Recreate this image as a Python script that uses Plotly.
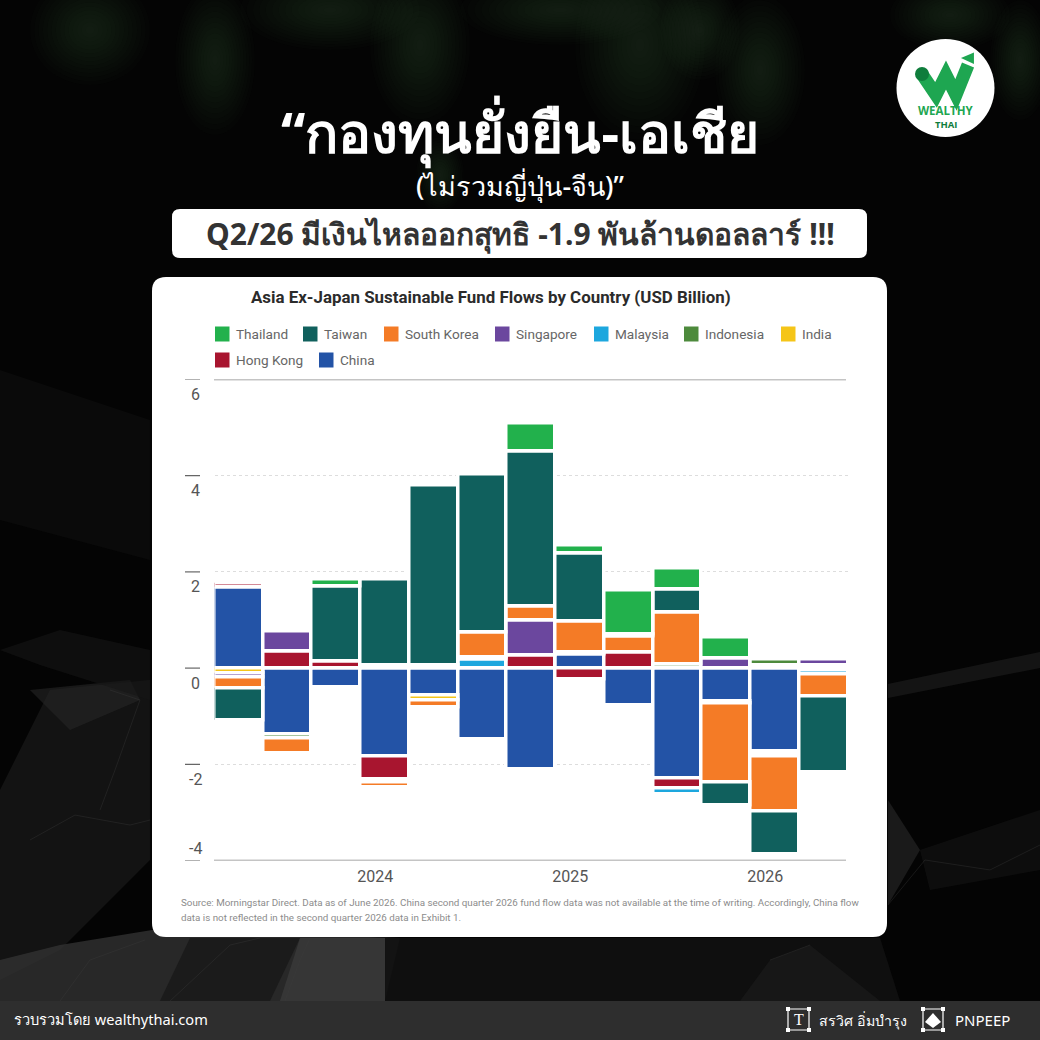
import plotly.graph_objects as go

QUARTERS = ["Q2 2023", "Q3 2023", "Q4 2023", "Q1 2024", "Q2 2024", "Q3 2024", "Q4 2024",
            "Q1 2025", "Q2 2025", "Q3 2025", "Q4 2025", "Q1 2026", "Q2 2026"]

# stacked from the zero line outwards, China is nearest to zero
china = [1.67, -1.39, -0.41, -1.83, -0.57, -1.49, -2.10, 0.29, -0.78, -2.30, -0.69, -1.74, None]
hong_kong = [0.09, 0.34, 0.13, -0.49, None, None, 0.27, -0.23, 0.32, -0.21, None, None, None]
india = [-0.12, None, None, -0.06, -0.11, None, None, None, None, None, None, 0.05, 0.05]
indonesia = [None, -0.07, None, 0.05, None, None, None, None, None, 0.07, None, 0.13, -0.04]
malaysia = [None, None, None, None, None, 0.17, None, None, None, -0.11, -0.04, -0.05, -0.10]
singapore = [-0.07, 0.42, None, None, 0.05, 0.05, 0.73, 0.04, None, None, 0.19, -0.05, 0.13]
south_korea = [-0.23, -0.31, None, -0.10, -0.13, 0.53, 0.29, 0.63, 0.33, 1.09, -1.64, -1.15, -0.45]
taiwan = [-0.67, None, 1.56, 1.80, 3.74, 3.27, 3.21, 1.43, 0.04, 0.48, -0.48, -0.88, -1.58]
thailand = [None, None, 0.16, None, None, None, 0.58, 0.15, 0.92, 0.43, 0.45, None, None]

STACK = [("China", china, "#2353a6"), ("Hong Kong", hong_kong, "#a8152f"), ("India", india, "#f5c518"),
         ("Indonesia", indonesia, "#4d8a3c"), ("Malaysia", malaysia, "#1da7de"), ("Singapore", singapore, "#6b479e"),
         ("South Korea", south_korea, "#f47b26"), ("Taiwan", taiwan, "#10605d"), ("Thailand", thailand, "#22b14c")]

# legend rows: name, swatch left edge
LEGEND_ROW1 = [("Thailand", 215), ("Taiwan", 303), ("South Korea", 384), ("Singapore", 495),
               ("Malaysia", 594), ("Indonesia", 684), ("India", 781)]
LEGEND_ROW2 = [("Hong Kong", 215), ("China", 319)]

Y_TICKS = [6, 4, 2, 0, -2, -4]
YEAR_LABELS = ["2024", "2025", "2026"]
YEAR_POS = [2.8, 6.8, 10.8]

TITLE1 = "“กองทุนยั่งยืน-เอเชีย"
TITLE2 = "(ไม่รวมญี่ปุ่น-จีน)”"
HEADLINE = "Q2/26 มีเงินไหลออกสุทธิ -1.9 พันล้านดอลลาร์ !!!"
CHART_TITLE = "Asia Ex-Japan Sustainable Fund Flows by Country (USD Billion)"
SOURCE1 = "Source: Morningstar Direct. Data as of June 2026. China second quarter 2026 fund flow data was not available at the time of writing. Accordingly, China flow"
SOURCE2 = "data is not reflected in the second quarter 2026 data in Exhibit 1."

THAI_FONT = "Noto Sans, sans-serif"
NARROW = "Roboto, sans-serif"


def px(x):
    return x / 1040


def py(y):
    return 1 - y / 1040


def poly(points, color, opacity=1.0):
    path = "M " + " L ".join(f"{px(x):.4f},{py(y):.4f}" for x, y in points) + " Z"
    return dict(type="path", path=path, xref="paper", yref="paper", fillcolor=color,
                line_width=0, opacity=opacity, layer="below")


def crease(points, color, width=1.0, opacity=0.35):
    path = "M " + " L ".join(f"{px(x):.4f},{py(y):.4f}" for x, y in points)
    return dict(type="path", path=path, xref="paper", yref="paper", line=dict(color=color, width=width),
                opacity=opacity, layer="below")


def rrect(x0, y0, x1, y1, r, color):
    pts = f"M {px(x0+r)},{py(y0)} L {px(x1-r)},{py(y0)} Q {px(x1)},{py(y0)} {px(x1)},{py(y0+r)} " \
          f"L {px(x1)},{py(y1-r)} Q {px(x1)},{py(y1)} {px(x1-r)},{py(y1)} L {px(x0+r)},{py(y1)} " \
          f"Q {px(x0)},{py(y1)} {px(x0)},{py(y1-r)} L {px(x0)},{py(y0+r)} Q {px(x0)},{py(y0)} {px(x0+r)},{py(y0)} Z"
    return dict(type="path", path=pts, xref="paper", yref="paper", fillcolor=color, line_width=0, layer="below")


def box(x0, y0, x1, y1, color, line=None, lw=0):
    return dict(type="rect", xref="paper", yref="paper", x0=px(x0), x1=px(x1), y0=py(y0), y1=py(y1),
                fillcolor=color, line=dict(color=line, width=lw), layer="below")


def circle(cx, cy, r, color, opacity=1.0, ry=None):
    ry = ry or r
    return dict(type="circle", xref="paper", yref="paper", x0=px(cx-r), x1=px(cx+r), y0=py(cy-ry), y1=py(cy+ry),
                fillcolor=color, line_width=0, opacity=opacity, layer="below")


def text(x, y, s, size, color, font=THAI_FONT, anchor="center", weight=None):
    return dict(x=px(x), y=py(y), xref="paper", yref="paper", text=s, showarrow=False, xanchor=anchor,
                yanchor="middle", font=dict(size=size, color=color, family=font, weight=weight))


shapes = []

# backdrop: blurred leaves along the top
for cx, cy, rx, ry in [(215, 60, 40, 75), (420, 45, 50, 80), (440, 175, 24, 38), (640, 45, 65, 95), (760, 70, 45, 75),
                       (90, 30, 60, 55), (950, 15, 60, 35), (330, 10, 90, 40), (560, 10, 100, 35),
                       (1020, 60, 30, 60), (700, 30, 40, 50)]:
    for k in range(1, 15):
        shapes.append(circle(cx, cy, rx * k / 14, "#2a4a2a", 0.045, ry * k / 14))

# backdrop: crumpled paper at the bottom
for pts, c, o in [
    ([(0, 790), (50, 690), (150, 680), (150, 860), (60, 950), (0, 980)], "#1e1e1e", 0.6),
    ([(30, 690), (130, 680), (140, 700), (70, 730)], "#262626", 0.6),
    ([(0, 650), (40, 665), (150, 700), (150, 650), (60, 630)], "#161616", 0.6),
    ([(0, 1001), (0, 960), (60, 945), (152, 930), (400, 938), (385, 1001)], "#343434", 0.75),
    ([(190, 938), (300, 938), (270, 1001), (160, 1001)], "#181818", 0.8),
    ([(300, 938), (385, 938), (385, 1001), (280, 1001)], "#3a3a3a", 0.8),
    ([(385, 938), (880, 938), (900, 1001), (385, 1001)], "#111111", 0.9),
    ([(740, 1001), (770, 960), (810, 945), (880, 1001)], "#191919", 0.8),
    ([(888, 684), (1040, 652), (1040, 668), (888, 698)], "#1f1f1f", 0.6),
    ([(888, 800), (920, 850), (888, 905)], "#232323", 0.7),
    ([(920, 850), (1040, 810), (1040, 870), (930, 890)], "#101010", 0.8),
    ([(0, 370), (60, 390), (150, 420), (150, 560), (0, 520)], "#0d0d0d", 0.7),
]:
    shapes.append(poly(pts, c, o))

for pts in [
    [(30, 840), (75, 815), (130, 825), (150, 820)],
    [(110, 690), (140, 700), (115, 770), (100, 810)],
    [(60, 1001), (90, 960), (145, 940)],
    [(285, 1001), (300, 960), (310, 938)],
    [(170, 1001), (230, 945), (260, 938)],
    [(770, 960), (810, 945)],
    [(888, 905), (925, 860), (990, 870), (1040, 845)],
]:
    shapes.append(crease(pts, "#3d3d3d"))

shapes.append(box(0, 1001, 1040, 1040, "#2e2e2e"))

# white panels
shapes.append(rrect(172, 209, 867, 258, 8, "white"))
shapes.append(rrect(152, 277, 887, 937, 14, "white"))

# logo
shapes.append(circle(945.5, 88, 49, "white"))
w_path = "M " + " L ".join(f"{px(x):.4f},{py(y):.4f}" for x, y in [(922, 74), (936, 95), (946, 75), (956, 95), (968, 65)])
shapes.append(dict(type="path", path=w_path, xref="paper", yref="paper", line=dict(color="#1ea651", width=13), layer="below"))
shapes.append(circle(922, 74, 7, "#0f7d3c"))
shapes.append(poly([(961, 58), (974, 52.5), (974, 64)], "#1ea651"))

# footer icons
for x0, x1 in [(788, 809), (923, 943)]:
    shapes.append(box(x0, 1009, x1, 1030, "rgba(0,0,0,0)", "white", 1.2))
    for cx in (x0, x1):
        for cy in (1009, 1030):
            shapes.append(box(cx - 2, cy - 2, cx + 2, cy + 2, "white"))
shapes.append(poly([(933, 1013), (941, 1022), (933, 1028), (925, 1022)], "white"))

# legend swatches
for row, y in [(LEGEND_ROW1, 334), (LEGEND_ROW2, 360)]:
    for name, x in row:
        color = [c for n, v, c in STACK if n == name][0]
        shapes.append(box(x, y - 7.5, x + 14.5, y + 7.5, color))

# y axis dashes and the two solid rules
for v in Y_TICKS:
    shapes.append(dict(type="line", xref="paper", yref="y", x0=px(185), x1=px(200), y0=v, y1=v,
                       line=dict(color="#666666", width=1.2)))
for v in [6, -4]:
    shapes.append(dict(type="line", xref="paper", yref="y", x0=px(214), x1=px(846), y0=v, y1=v,
                       line=dict(color="#8a8a8a", width=1.6)))

annotations = [
    text(520, 131, TITLE1, 55, "white", weight=700),
    text(520, 185, TITLE2, 27, "white", weight=500),
    text(520, 234, HEADLINE, 30, "#333333", weight=700),
    text(490.5, 297, CHART_TITLE, 16.9, "#2b2b2b", NARROW, weight=700),
    text(179, 902, SOURCE1, 9.8, "#8c8c8c", NARROW, "left"),
    text(179, 917, SOURCE2, 9.8, "#8c8c8c", NARROW, "left"),
    text(945.5, 110.5, "WEALTHY", 11.5, "#1ea651", "Open Sans", weight=700),
    text(945.5, 124, "THAI", 9.5, "#0f7d3c", "Open Sans", weight=700),
    text(12, 1019, "รวบรวมโดย wealthythai.com", 14.6, "white", anchor="left"),
    text(817, 1020, "สรวิศ อิ่มบำรุง", 14.2, "white", anchor="left"),
    text(953, 1020, "PNPEEP", 15, "white", anchor="left"),
    text(798.5, 1019.5, "T", 16, "white", "Liberation Serif"),
]

for row, y in [(LEGEND_ROW1, 334), (LEGEND_ROW2, 360)]:
    for name, x in row:
        annotations.append(text(x + 19, y, name, 13.6, "#666666", NARROW, "left"))

for v in Y_TICKS:
    annotations.append(dict(x=px(195), y=v, xref="paper", yref="y", text=str(v), showarrow=False,
                            xanchor="center", yanchor="middle", yshift=12 if v == -4 else -15,
                            font=dict(size=16, color="#555555", family=NARROW)))

fig = go.Figure()
for name, values, color in STACK:
    fig.add_trace(go.Bar(x=QUARTERS, y=values, name=name, cliponaxis=False,
                         marker=dict(color=color, line=dict(color="white", width=3.5))))

fig.update_layout(
    width=1040, height=1040, margin=dict(l=0, r=0, t=0, b=0),
    barmode="relative", bargap=0, showlegend=False,
    paper_bgcolor="#040404", plot_bgcolor="rgba(0,0,0,0)",
    shapes=shapes, annotations=annotations,
)
fig.update_xaxes(domain=[px(214.5), px(848)], range=[-0.5, 12.5], type="category", showgrid=False,
                 zeroline=False, showline=False, ticks="", tickmode="array", tickvals=YEAR_POS, ticktext=YEAR_LABELS,
                 tickfont=dict(size=16, color="#555555", family=NARROW), ticklabelstandoff=4)
fig.update_yaxes(domain=[py(860.5), py(379.5)], range=[-4, 6], tickmode="array", tickvals=[-2, 2, 4],
                 showticklabels=False, zeroline=False, showline=False, ticks="",
                 showgrid=True, griddash="dot", gridcolor="#dddddd", gridwidth=1)

# the page body has a default margin, drop it so the figure fills the window
fig.write_html("out.html", config=dict(displayModeBar=False), post_script="document.body.style.margin='0';")
